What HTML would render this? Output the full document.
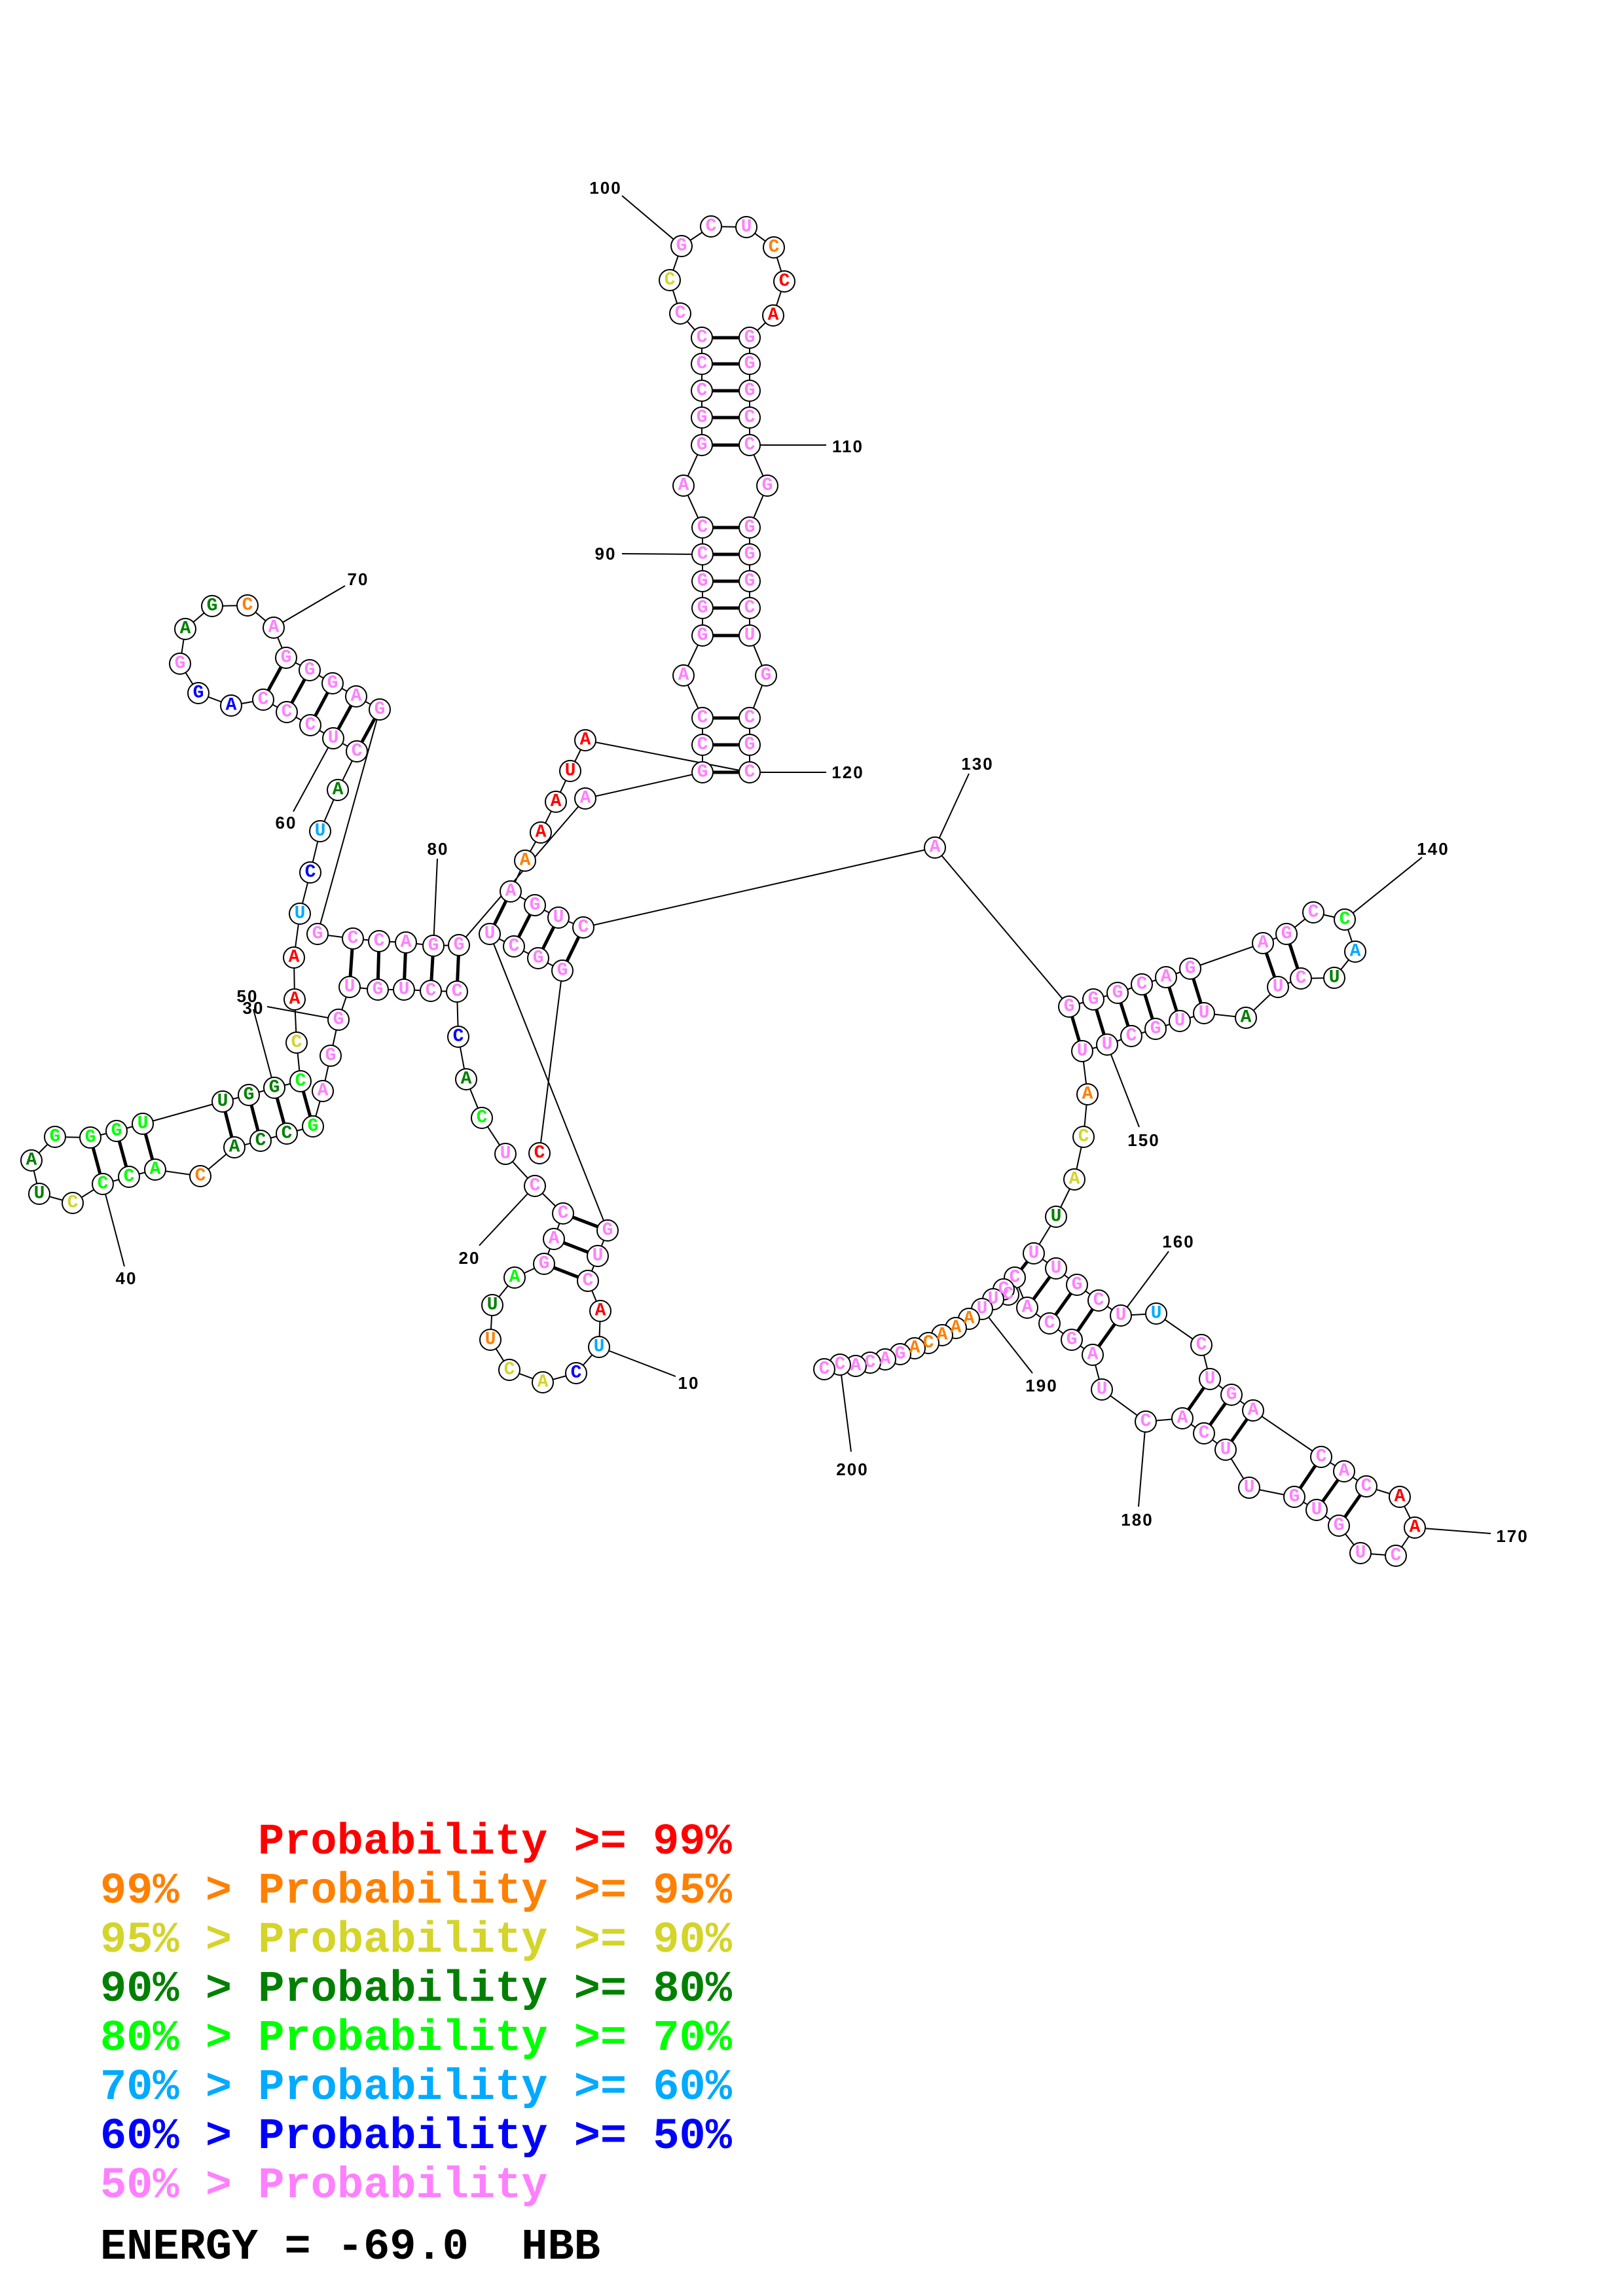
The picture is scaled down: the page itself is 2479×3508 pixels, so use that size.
<!DOCTYPE html>
<html><head><meta charset="utf-8"><style>
html,body{margin:0;padding:0;background:#fff}
svg{display:block}
.n circle{fill:#fff;stroke:#000;stroke-width:2}
.t text{font-family:"Liberation Mono",monospace;font-weight:bold;font-size:28px;text-anchor:middle;dominant-baseline:central}
.p{fill:#ff80ff}.r{fill:#ff0000}.o{fill:#ff8000}.y{fill:#d4d42a}.d{fill:#008000}.g{fill:#00ff00}.l{fill:#00aaff}.b{fill:#0000ff}
.lab{font-family:"Liberation Sans",sans-serif;font-weight:bold;font-size:26px;text-anchor:middle;letter-spacing:2px}
.leg{font-family:"Liberation Mono",monospace;font-weight:bold;font-size:67px}
</style></head><body>
<svg width="2479" height="3508" viewBox="0 0 2479 3508" xmlns="http://www.w3.org/2000/svg">
<rect width="2479" height="3508" fill="#fff"/>
<polyline fill="none" stroke="#000" stroke-width="2" points="824,1762 859,1483 822,1464 785,1446 748,1427 928,1880 913,1919 898,1957 917,2003 915,2058 880,2098 829,2112 778,2093 749,2047 752,1994 786,1952 831,1931 846,1893 860,1854 817,1812 772,1763 736,1708 712,1649 700,1584 698,1515 658,1514 617,1512 577,1512 534,1508 517,1558 505,1613 493,1667 478,1721 438,1732 398,1743 358,1753 306,1797 237,1787 197,1798 157,1809 111,1838 60,1824 48,1773 84,1737 138,1738 178,1728 218,1717 340,1683 380,1673 419,1662 459,1652 453,1593 450,1527 449,1463 458,1396 474,1333 489,1270 516,1207 545,1148 509,1128 474,1108 438,1088 402,1069 353,1078 303,1059 275,1014 283,961 324,926 378,925 418,959 437,1005 473,1024 508,1044 544,1064 580,1084 485,1427 539,1434 579,1438 620,1440 662,1445 701,1444 894,1220 1073,1180 1073,1138 1073,1097 1044,1032 1073,971 1073,929 1073,888 1073,847 1073,806 1044,742 1072,680 1072,638 1072,597 1072,556 1072,516 1039,479 1023,428 1041,376 1086,346 1140,347 1182,378 1198,430 1181,482 1145,516 1145,556 1145,597 1145,638 1145,680 1172,742 1145,806 1145,847 1145,888 1145,929 1145,971 1170,1032 1145,1097 1145,1138 1145,1180 894,1131 871,1178 849,1225 826,1272 802,1315 780,1362 817,1383 853,1402 891,1417 1428,1295 1633,1538 1670,1527 1707,1517 1744,1504 1781,1493 1818,1480 1929,1441 1965,1427 2006,1394 2054,1405 2070,1454 2038,1494 1987,1495 1952,1508 1903,1555 1839,1548 1802,1560 1765,1572 1728,1583 1691,1596 1653,1606 1661,1672 1655,1737 1641,1802 1613,1859 1579,1915 1613,1938 1645,1963 1678,1987 1712,2010 1766,2007 1835,2055 1848,2107 1881,2131 1914,2155 2018,2226 2053,2248 2087,2271 2138,2287 2161,2334 2132,2377 2078,2373 2045,2331 2011,2307 1977,2287 1908,2273 1872,2215 1839,2190 1806,2167 1750,2172 1683,2123 1669,2070 1637,2047 1603,2022 1569,1998 1550,1952 1540,1978 1533,1970 1517,1985 1500,2000 1480,2015 1460,2029 1439,2040 1418,2052 1397,2060 1375,2069 1352,2077 1329,2082 1307,2087 1283,2085 1259,2092"/>
<g stroke="#000" stroke-width="2">
<line x1="915" y1="2058" x2="1032" y2="2103"/>
<line x1="817" y1="1812" x2="732" y2="1903"/>
<line x1="517" y1="1558" x2="408" y2="1538"/>
<line x1="157" y1="1809" x2="190" y2="1935"/>
<line x1="419" y1="1662" x2="387" y2="1542"/>
<line x1="509" y1="1128" x2="448" y2="1240"/>
<line x1="418" y1="959" x2="527" y2="895"/>
<line x1="662" y1="1445" x2="668" y2="1312"/>
<line x1="1073" y1="847" x2="950" y2="846"/>
<line x1="1041" y1="376" x2="950" y2="299"/>
<line x1="1145" y1="680" x2="1262" y2="680"/>
<line x1="1145" y1="1180" x2="1262" y2="1180"/>
<line x1="1428" y1="1295" x2="1480" y2="1182"/>
<line x1="2054" y1="1405" x2="2172" y2="1310"/>
<line x1="1691" y1="1596" x2="1740" y2="1722"/>
<line x1="1712" y1="2010" x2="1785" y2="1912"/>
<line x1="2161" y1="2334" x2="2277" y2="2343"/>
<line x1="1750" y1="2172" x2="1739" y2="2302"/>
<line x1="1500" y1="2000" x2="1577" y2="2098"/>
<line x1="1283" y1="2085" x2="1300" y2="2218"/>
</g>
<g stroke="#000" stroke-width="5">
<line x1="859" y1="1483" x2="891" y2="1417"/><line x1="822" y1="1464" x2="853" y2="1402"/><line x1="785" y1="1446" x2="817" y2="1383"/><line x1="748" y1="1427" x2="780" y2="1362"/>
<line x1="928" y1="1880" x2="860" y2="1854"/><line x1="913" y1="1919" x2="846" y2="1893"/><line x1="898" y1="1957" x2="831" y2="1931"/>
<line x1="698" y1="1515" x2="701" y2="1444"/><line x1="658" y1="1514" x2="662" y2="1445"/><line x1="617" y1="1512" x2="620" y2="1440"/><line x1="577" y1="1512" x2="579" y2="1438"/><line x1="534" y1="1508" x2="539" y2="1434"/>
<line x1="478" y1="1721" x2="459" y2="1652"/><line x1="438" y1="1732" x2="419" y2="1662"/><line x1="398" y1="1743" x2="380" y2="1673"/><line x1="358" y1="1753" x2="340" y2="1683"/>
<line x1="237" y1="1787" x2="218" y2="1717"/><line x1="197" y1="1798" x2="178" y2="1728"/><line x1="157" y1="1809" x2="138" y2="1738"/>
<line x1="545" y1="1148" x2="580" y2="1084"/><line x1="509" y1="1128" x2="544" y2="1064"/><line x1="474" y1="1108" x2="508" y2="1044"/><line x1="438" y1="1088" x2="473" y2="1024"/><line x1="402" y1="1069" x2="437" y2="1005"/>
<line x1="1073" y1="1180" x2="1145" y2="1180"/><line x1="1073" y1="1138" x2="1145" y2="1138"/><line x1="1073" y1="1097" x2="1145" y2="1097"/><line x1="1073" y1="971" x2="1145" y2="971"/><line x1="1073" y1="929" x2="1145" y2="929"/><line x1="1073" y1="888" x2="1145" y2="888"/><line x1="1073" y1="847" x2="1145" y2="847"/><line x1="1073" y1="806" x2="1145" y2="806"/>
<line x1="1072" y1="680" x2="1145" y2="680"/><line x1="1072" y1="638" x2="1145" y2="638"/><line x1="1072" y1="597" x2="1145" y2="597"/><line x1="1072" y1="556" x2="1145" y2="556"/><line x1="1072" y1="516" x2="1145" y2="516"/>
<line x1="1633" y1="1538" x2="1653" y2="1606"/><line x1="1670" y1="1527" x2="1691" y2="1596"/><line x1="1707" y1="1517" x2="1728" y2="1583"/><line x1="1744" y1="1504" x2="1765" y2="1572"/><line x1="1781" y1="1493" x2="1802" y2="1560"/><line x1="1818" y1="1480" x2="1839" y2="1548"/>
<line x1="1929" y1="1441" x2="1952" y2="1508"/><line x1="1965" y1="1427" x2="1987" y2="1495"/>
<line x1="1579" y1="1915" x2="1550" y2="1952"/><line x1="1613" y1="1938" x2="1569" y2="1998"/><line x1="1645" y1="1963" x2="1603" y2="2022"/><line x1="1678" y1="1987" x2="1637" y2="2047"/><line x1="1712" y1="2010" x2="1669" y2="2070"/>
<line x1="1848" y1="2107" x2="1806" y2="2167"/><line x1="1881" y1="2131" x2="1839" y2="2190"/><line x1="1914" y1="2155" x2="1872" y2="2215"/>
<line x1="2018" y1="2226" x2="1977" y2="2287"/><line x1="2053" y1="2248" x2="2011" y2="2307"/><line x1="2087" y1="2271" x2="2045" y2="2331"/>
</g>
<g class="n">
<circle cx="824" cy="1762" r="16"/><circle cx="859" cy="1483" r="16"/><circle cx="822" cy="1464" r="16"/><circle cx="785" cy="1446" r="16"/><circle cx="748" cy="1427" r="16"/><circle cx="928" cy="1880" r="16"/><circle cx="913" cy="1919" r="16"/><circle cx="898" cy="1957" r="16"/><circle cx="917" cy="2003" r="16"/><circle cx="915" cy="2058" r="16"/>
<circle cx="880" cy="2098" r="16"/><circle cx="829" cy="2112" r="16"/><circle cx="778" cy="2093" r="16"/><circle cx="749" cy="2047" r="16"/><circle cx="752" cy="1994" r="16"/><circle cx="786" cy="1952" r="16"/><circle cx="831" cy="1931" r="16"/><circle cx="846" cy="1893" r="16"/><circle cx="860" cy="1854" r="16"/><circle cx="817" cy="1812" r="16"/>
<circle cx="772" cy="1763" r="16"/><circle cx="736" cy="1708" r="16"/><circle cx="712" cy="1649" r="16"/><circle cx="700" cy="1584" r="16"/><circle cx="698" cy="1515" r="16"/><circle cx="658" cy="1514" r="16"/><circle cx="617" cy="1512" r="16"/><circle cx="577" cy="1512" r="16"/><circle cx="534" cy="1508" r="16"/><circle cx="517" cy="1558" r="16"/>
<circle cx="505" cy="1613" r="16"/><circle cx="493" cy="1667" r="16"/><circle cx="478" cy="1721" r="16"/><circle cx="438" cy="1732" r="16"/><circle cx="398" cy="1743" r="16"/><circle cx="358" cy="1753" r="16"/><circle cx="306" cy="1797" r="16"/><circle cx="237" cy="1787" r="16"/><circle cx="197" cy="1798" r="16"/><circle cx="157" cy="1809" r="16"/>
<circle cx="111" cy="1838" r="16"/><circle cx="60" cy="1824" r="16"/><circle cx="48" cy="1773" r="16"/><circle cx="84" cy="1737" r="16"/><circle cx="138" cy="1738" r="16"/><circle cx="178" cy="1728" r="16"/><circle cx="218" cy="1717" r="16"/><circle cx="340" cy="1683" r="16"/><circle cx="380" cy="1673" r="16"/><circle cx="419" cy="1662" r="16"/>
<circle cx="459" cy="1652" r="16"/><circle cx="453" cy="1593" r="16"/><circle cx="450" cy="1527" r="16"/><circle cx="449" cy="1463" r="16"/><circle cx="458" cy="1396" r="16"/><circle cx="474" cy="1333" r="16"/><circle cx="489" cy="1270" r="16"/><circle cx="516" cy="1207" r="16"/><circle cx="545" cy="1148" r="16"/><circle cx="509" cy="1128" r="16"/>
<circle cx="474" cy="1108" r="16"/><circle cx="438" cy="1088" r="16"/><circle cx="402" cy="1069" r="16"/><circle cx="353" cy="1078" r="16"/><circle cx="303" cy="1059" r="16"/><circle cx="275" cy="1014" r="16"/><circle cx="283" cy="961" r="16"/><circle cx="324" cy="926" r="16"/><circle cx="378" cy="925" r="16"/><circle cx="418" cy="959" r="16"/>
<circle cx="437" cy="1005" r="16"/><circle cx="473" cy="1024" r="16"/><circle cx="508" cy="1044" r="16"/><circle cx="544" cy="1064" r="16"/><circle cx="580" cy="1084" r="16"/><circle cx="485" cy="1427" r="16"/><circle cx="539" cy="1434" r="16"/><circle cx="579" cy="1438" r="16"/><circle cx="620" cy="1440" r="16"/><circle cx="662" cy="1445" r="16"/>
<circle cx="701" cy="1444" r="16"/><circle cx="894" cy="1220" r="16"/><circle cx="1073" cy="1180" r="16"/><circle cx="1073" cy="1138" r="16"/><circle cx="1073" cy="1097" r="16"/><circle cx="1044" cy="1032" r="16"/><circle cx="1073" cy="971" r="16"/><circle cx="1073" cy="929" r="16"/><circle cx="1073" cy="888" r="16"/><circle cx="1073" cy="847" r="16"/>
<circle cx="1073" cy="806" r="16"/><circle cx="1044" cy="742" r="16"/><circle cx="1072" cy="680" r="16"/><circle cx="1072" cy="638" r="16"/><circle cx="1072" cy="597" r="16"/><circle cx="1072" cy="556" r="16"/><circle cx="1072" cy="516" r="16"/><circle cx="1039" cy="479" r="16"/><circle cx="1023" cy="428" r="16"/><circle cx="1041" cy="376" r="16"/>
<circle cx="1086" cy="346" r="16"/><circle cx="1140" cy="347" r="16"/><circle cx="1182" cy="378" r="16"/><circle cx="1198" cy="430" r="16"/><circle cx="1181" cy="482" r="16"/><circle cx="1145" cy="516" r="16"/><circle cx="1145" cy="556" r="16"/><circle cx="1145" cy="597" r="16"/><circle cx="1145" cy="638" r="16"/><circle cx="1145" cy="680" r="16"/>
<circle cx="1172" cy="742" r="16"/><circle cx="1145" cy="806" r="16"/><circle cx="1145" cy="847" r="16"/><circle cx="1145" cy="888" r="16"/><circle cx="1145" cy="929" r="16"/><circle cx="1145" cy="971" r="16"/><circle cx="1170" cy="1032" r="16"/><circle cx="1145" cy="1097" r="16"/><circle cx="1145" cy="1138" r="16"/><circle cx="1145" cy="1180" r="16"/>
<circle cx="894" cy="1131" r="16"/><circle cx="871" cy="1178" r="16"/><circle cx="849" cy="1225" r="16"/><circle cx="826" cy="1272" r="16"/><circle cx="802" cy="1315" r="16"/><circle cx="780" cy="1362" r="16"/><circle cx="817" cy="1383" r="16"/><circle cx="853" cy="1402" r="16"/><circle cx="891" cy="1417" r="16"/><circle cx="1428" cy="1295" r="16"/>
<circle cx="1633" cy="1538" r="16"/><circle cx="1670" cy="1527" r="16"/><circle cx="1707" cy="1517" r="16"/><circle cx="1744" cy="1504" r="16"/><circle cx="1781" cy="1493" r="16"/><circle cx="1818" cy="1480" r="16"/><circle cx="1929" cy="1441" r="16"/><circle cx="1965" cy="1427" r="16"/><circle cx="2006" cy="1394" r="16"/><circle cx="2054" cy="1405" r="16"/>
<circle cx="2070" cy="1454" r="16"/><circle cx="2038" cy="1494" r="16"/><circle cx="1987" cy="1495" r="16"/><circle cx="1952" cy="1508" r="16"/><circle cx="1903" cy="1555" r="16"/><circle cx="1839" cy="1548" r="16"/><circle cx="1802" cy="1560" r="16"/><circle cx="1765" cy="1572" r="16"/><circle cx="1728" cy="1583" r="16"/><circle cx="1691" cy="1596" r="16"/>
<circle cx="1653" cy="1606" r="16"/><circle cx="1661" cy="1672" r="16"/><circle cx="1655" cy="1737" r="16"/><circle cx="1641" cy="1802" r="16"/><circle cx="1613" cy="1859" r="16"/><circle cx="1579" cy="1915" r="16"/><circle cx="1613" cy="1938" r="16"/><circle cx="1645" cy="1963" r="16"/><circle cx="1678" cy="1987" r="16"/><circle cx="1712" cy="2010" r="16"/>
<circle cx="1766" cy="2007" r="16"/><circle cx="1835" cy="2055" r="16"/><circle cx="1848" cy="2107" r="16"/><circle cx="1881" cy="2131" r="16"/><circle cx="1914" cy="2155" r="16"/><circle cx="2018" cy="2226" r="16"/><circle cx="2053" cy="2248" r="16"/><circle cx="2087" cy="2271" r="16"/><circle cx="2138" cy="2287" r="16"/><circle cx="2161" cy="2334" r="16"/>
<circle cx="2132" cy="2377" r="16"/><circle cx="2078" cy="2373" r="16"/><circle cx="2045" cy="2331" r="16"/><circle cx="2011" cy="2307" r="16"/><circle cx="1977" cy="2287" r="16"/><circle cx="1908" cy="2273" r="16"/><circle cx="1872" cy="2215" r="16"/><circle cx="1839" cy="2190" r="16"/><circle cx="1806" cy="2167" r="16"/><circle cx="1750" cy="2172" r="16"/>
<circle cx="1683" cy="2123" r="16"/><circle cx="1669" cy="2070" r="16"/><circle cx="1637" cy="2047" r="16"/><circle cx="1603" cy="2022" r="16"/><circle cx="1569" cy="1998" r="16"/><circle cx="1550" cy="1952" r="16"/><circle cx="1540" cy="1978" r="16"/><circle cx="1533" cy="1970" r="16"/><circle cx="1517" cy="1985" r="16"/><circle cx="1500" cy="2000" r="16"/>
<circle cx="1480" cy="2015" r="16"/><circle cx="1460" cy="2029" r="16"/><circle cx="1439" cy="2040" r="16"/><circle cx="1418" cy="2052" r="16"/><circle cx="1397" cy="2060" r="16"/><circle cx="1375" cy="2069" r="16"/><circle cx="1352" cy="2077" r="16"/><circle cx="1329" cy="2082" r="16"/><circle cx="1307" cy="2087" r="16"/><circle cx="1283" cy="2085" r="16"/>
<circle cx="1259" cy="2092" r="16"/>
</g>
<g class="t">
<text x="824" y="1762" class="r">C</text><text x="859" y="1483" class="p">G</text><text x="822" y="1464" class="p">G</text><text x="785" y="1446" class="p">C</text><text x="748" y="1427" class="p">U</text><text x="928" y="1880" class="p">G</text><text x="913" y="1919" class="p">U</text><text x="898" y="1957" class="p">C</text><text x="917" y="2003" class="r">A</text><text x="915" y="2058" class="l">U</text>
<text x="880" y="2098" class="b">C</text><text x="829" y="2112" class="y">A</text><text x="778" y="2093" class="y">C</text><text x="749" y="2047" class="o">U</text><text x="752" y="1994" class="d">U</text><text x="786" y="1952" class="g">A</text><text x="831" y="1931" class="p">G</text><text x="846" y="1893" class="p">A</text><text x="860" y="1854" class="p">C</text><text x="817" y="1812" class="p">C</text>
<text x="772" y="1763" class="p">U</text><text x="736" y="1708" class="g">C</text><text x="712" y="1649" class="d">A</text><text x="700" y="1584" class="b">C</text><text x="698" y="1515" class="p">C</text><text x="658" y="1514" class="p">C</text><text x="617" y="1512" class="p">U</text><text x="577" y="1512" class="p">G</text><text x="534" y="1508" class="p">U</text><text x="517" y="1558" class="p">G</text>
<text x="505" y="1613" class="p">G</text><text x="493" y="1667" class="p">A</text><text x="478" y="1721" class="g">G</text><text x="438" y="1732" class="d">C</text><text x="398" y="1743" class="d">C</text><text x="358" y="1753" class="d">A</text><text x="306" y="1797" class="o">C</text><text x="237" y="1787" class="g">A</text><text x="197" y="1798" class="g">C</text><text x="157" y="1809" class="g">C</text>
<text x="111" y="1838" class="y">C</text><text x="60" y="1824" class="d">U</text><text x="48" y="1773" class="d">A</text><text x="84" y="1737" class="g">G</text><text x="138" y="1738" class="g">G</text><text x="178" y="1728" class="g">G</text><text x="218" y="1717" class="g">U</text><text x="340" y="1683" class="d">U</text><text x="380" y="1673" class="d">G</text><text x="419" y="1662" class="d">G</text>
<text x="459" y="1652" class="g">C</text><text x="453" y="1593" class="y">C</text><text x="450" y="1527" class="r">A</text><text x="449" y="1463" class="r">A</text><text x="458" y="1396" class="l">U</text><text x="474" y="1333" class="b">C</text><text x="489" y="1270" class="l">U</text><text x="516" y="1207" class="d">A</text><text x="545" y="1148" class="p">C</text><text x="509" y="1128" class="p">U</text>
<text x="474" y="1108" class="p">C</text><text x="438" y="1088" class="p">C</text><text x="402" y="1069" class="p">C</text><text x="353" y="1078" class="b">A</text><text x="303" y="1059" class="b">G</text><text x="275" y="1014" class="p">G</text><text x="283" y="961" class="d">A</text><text x="324" y="926" class="d">G</text><text x="378" y="925" class="o">C</text><text x="418" y="959" class="p">A</text>
<text x="437" y="1005" class="p">G</text><text x="473" y="1024" class="p">G</text><text x="508" y="1044" class="p">G</text><text x="544" y="1064" class="p">A</text><text x="580" y="1084" class="p">G</text><text x="485" y="1427" class="p">G</text><text x="539" y="1434" class="p">C</text><text x="579" y="1438" class="p">C</text><text x="620" y="1440" class="p">A</text><text x="662" y="1445" class="p">G</text>
<text x="701" y="1444" class="p">G</text><text x="894" y="1220" class="p">A</text><text x="1073" y="1180" class="p">G</text><text x="1073" y="1138" class="p">C</text><text x="1073" y="1097" class="p">C</text><text x="1044" y="1032" class="p">A</text><text x="1073" y="971" class="p">G</text><text x="1073" y="929" class="p">G</text><text x="1073" y="888" class="p">G</text><text x="1073" y="847" class="p">C</text>
<text x="1073" y="806" class="p">C</text><text x="1044" y="742" class="p">A</text><text x="1072" y="680" class="p">G</text><text x="1072" y="638" class="p">G</text><text x="1072" y="597" class="p">C</text><text x="1072" y="556" class="p">C</text><text x="1072" y="516" class="p">C</text><text x="1039" y="479" class="p">C</text><text x="1023" y="428" class="y">C</text><text x="1041" y="376" class="p">G</text>
<text x="1086" y="346" class="p">C</text><text x="1140" y="347" class="p">U</text><text x="1182" y="378" class="o">C</text><text x="1198" y="430" class="r">C</text><text x="1181" y="482" class="r">A</text><text x="1145" y="516" class="p">G</text><text x="1145" y="556" class="p">G</text><text x="1145" y="597" class="p">G</text><text x="1145" y="638" class="p">C</text><text x="1145" y="680" class="p">C</text>
<text x="1172" y="742" class="p">G</text><text x="1145" y="806" class="p">G</text><text x="1145" y="847" class="p">G</text><text x="1145" y="888" class="p">G</text><text x="1145" y="929" class="p">C</text><text x="1145" y="971" class="p">U</text><text x="1170" y="1032" class="p">G</text><text x="1145" y="1097" class="p">C</text><text x="1145" y="1138" class="p">G</text><text x="1145" y="1180" class="p">C</text>
<text x="894" y="1131" class="r">A</text><text x="871" y="1178" class="r">U</text><text x="849" y="1225" class="r">A</text><text x="826" y="1272" class="r">A</text><text x="802" y="1315" class="o">A</text><text x="780" y="1362" class="p">A</text><text x="817" y="1383" class="p">G</text><text x="853" y="1402" class="p">U</text><text x="891" y="1417" class="p">C</text><text x="1428" y="1295" class="p">A</text>
<text x="1633" y="1538" class="p">G</text><text x="1670" y="1527" class="p">G</text><text x="1707" y="1517" class="p">G</text><text x="1744" y="1504" class="p">C</text><text x="1781" y="1493" class="p">A</text><text x="1818" y="1480" class="p">G</text><text x="1929" y="1441" class="p">A</text><text x="1965" y="1427" class="p">G</text><text x="2006" y="1394" class="p">C</text><text x="2054" y="1405" class="g">C</text>
<text x="2070" y="1454" class="l">A</text><text x="2038" y="1494" class="d">U</text><text x="1987" y="1495" class="p">C</text><text x="1952" y="1508" class="p">U</text><text x="1903" y="1555" class="d">A</text><text x="1839" y="1548" class="p">U</text><text x="1802" y="1560" class="p">U</text><text x="1765" y="1572" class="p">G</text><text x="1728" y="1583" class="p">C</text><text x="1691" y="1596" class="p">U</text>
<text x="1653" y="1606" class="p">U</text><text x="1661" y="1672" class="o">A</text><text x="1655" y="1737" class="y">C</text><text x="1641" y="1802" class="y">A</text><text x="1613" y="1859" class="d">U</text><text x="1579" y="1915" class="p">U</text><text x="1613" y="1938" class="p">U</text><text x="1645" y="1963" class="p">G</text><text x="1678" y="1987" class="p">C</text><text x="1712" y="2010" class="p">U</text>
<text x="1766" y="2007" class="l">U</text><text x="1835" y="2055" class="p">C</text><text x="1848" y="2107" class="p">U</text><text x="1881" y="2131" class="p">G</text><text x="1914" y="2155" class="p">A</text><text x="2018" y="2226" class="p">C</text><text x="2053" y="2248" class="p">A</text><text x="2087" y="2271" class="p">C</text><text x="2138" y="2287" class="r">A</text><text x="2161" y="2334" class="r">A</text>
<text x="2132" y="2377" class="p">C</text><text x="2078" y="2373" class="p">U</text><text x="2045" y="2331" class="p">G</text><text x="2011" y="2307" class="p">U</text><text x="1977" y="2287" class="p">G</text><text x="1908" y="2273" class="p">U</text><text x="1872" y="2215" class="p">U</text><text x="1839" y="2190" class="p">C</text><text x="1806" y="2167" class="p">A</text><text x="1750" y="2172" class="p">C</text>
<text x="1683" y="2123" class="p">U</text><text x="1669" y="2070" class="p">A</text><text x="1637" y="2047" class="p">G</text><text x="1603" y="2022" class="p">C</text><text x="1569" y="1998" class="p">A</text><text x="1550" y="1952" class="p">C</text><text x="1540" y="1978" class="p">C</text><text x="1533" y="1970" class="p">C</text><text x="1517" y="1985" class="p">U</text><text x="1500" y="2000" class="p">U</text>
<text x="1480" y="2015" class="o">A</text><text x="1460" y="2029" class="o">A</text><text x="1439" y="2040" class="o">A</text><text x="1418" y="2052" class="o">C</text><text x="1397" y="2060" class="o">A</text><text x="1375" y="2069" class="p">G</text><text x="1352" y="2077" class="p">A</text><text x="1329" y="2082" class="p">C</text><text x="1307" y="2087" class="p">A</text><text x="1283" y="2085" class="p">C</text>
<text x="1259" y="2092" class="p">C</text>
</g>
<g class="lab">
<text x="1052" y="2122">10</text>
<text x="717" y="1931">20</text>
<text x="387" y="1549">30</text>
<text x="193" y="1962">40</text>
<text x="378" y="1531">50</text>
<text x="437" y="1266">60</text>
<text x="547" y="894">70</text>
<text x="669" y="1306">80</text>
<text x="925" y="855">90</text>
<text x="925" y="296">100</text>
<text x="1295" y="691">110</text>
<text x="1295" y="1189">120</text>
<text x="1493" y="1176">130</text>
<text x="2189" y="1306">140</text>
<text x="1747" y="1751">150</text>
<text x="1800" y="1906">160</text>
<text x="2310" y="2356">170</text>
<text x="1737" y="2331">180</text>
<text x="1591" y="2126">190</text>
<text x="1302" y="2254">200</text>
</g>
<g class="leg">
<text x="394" y="2832" fill="#ff0000">Probability &gt;= 99%</text>
<text x="153" y="2907" fill="#ff8000">99% &gt; Probability &gt;= 95%</text>
<text x="153" y="2982" fill="#d4d42a">95% &gt; Probability &gt;= 90%</text>
<text x="153" y="3057" fill="#008000">90% &gt; Probability &gt;= 80%</text>
<text x="153" y="3132" fill="#00ff00">80% &gt; Probability &gt;= 70%</text>
<text x="153" y="3207" fill="#00aaff">70% &gt; Probability &gt;= 60%</text>
<text x="153" y="3282" fill="#0000ff">60% &gt; Probability &gt;= 50%</text>
<text x="153" y="3357" fill="#ff80ff">50% &gt; Probability</text>
<text x="153" y="3451" fill="#000" xml:space="preserve">ENERGY = -69.0  HBB</text>
</g>
</svg>
</body></html>
